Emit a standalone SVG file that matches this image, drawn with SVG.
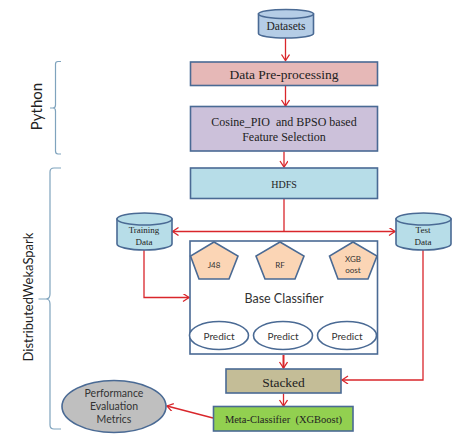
<svg xmlns="http://www.w3.org/2000/svg" width="461" height="446" viewBox="0 0 461 446">
<style>
.b{stroke:#4a6a94;stroke-width:1.6}
.t{font-family:"Liberation Serif",serif;fill:#222;text-anchor:middle}
.s{font-family:Lato,"Liberation Sans",sans-serif;fill:#333;text-anchor:middle}
.r{fill:none;stroke:#d9262b;stroke-width:1.3}
.u{fill:none;stroke:#6a9cc0;stroke-width:1.3}
.br{fill:none;stroke:#7fa3bd;stroke-width:1.2}
</style>
<defs>
<marker id="ar" markerWidth="10" markerHeight="10" refX="7" refY="4" orient="auto" markerUnits="userSpaceOnUse"><path d="M1 0L7 4L1 8" fill="none" stroke="#d9262b" stroke-width="1.3"/></marker>
<marker id="au" markerWidth="10" markerHeight="10" refX="7" refY="4" orient="auto" markerUnits="userSpaceOnUse"><path d="M1 0L7 4L1 8" fill="none" stroke="#6a9cc0" stroke-width="1.3"/></marker>
</defs>
<rect width="461" height="446" fill="#fff"/>
<g id="connectors">
<path class="r" d="M285.500 38V60.500" marker-end="url(#ar)"/>
<path class="r" d="M285.500 86V106" marker-end="url(#ar)"/>
<path class="r" d="M284 151.500V167" marker-end="url(#ar)"/>
<path class="r" d="M284 199V231"/>
<path class="r" d="M284 231.500H172.500" marker-end="url(#ar)"/>
<path class="r" d="M284 231.500H395" marker-end="url(#ar)"/>
<path class="r" d="M144 250V297.500H189" marker-end="url(#ar)"/>
<path class="r" d="M423 250V380H342" marker-end="url(#ar)"/>
<path class="r" d="M283.500 355V368" marker-end="url(#ar)" style="stroke-width:2"/>
<path class="r" d="M283.500 393.500V406" marker-end="url(#ar)"/>
<path class="r" d="M213 418L167 406" marker-end="url(#ar)"/>
<path class="u" d="M213.500 279V320.500" marker-end="url(#au)"/>
<path class="u" d="M281 279V320.500" marker-end="url(#au)"/>
<path class="u" d="M354.500 279V320.500" marker-end="url(#au)"/>
</g>
<g id="brace-python">
<path class="br" d="M61 61.500H58Q55.500 61.500 55.500 64V105Q55.500 108 53 108H50M53 108Q55.500 108 55.500 111V151Q55.500 154 58 154H61"/>
<text class="s" transform="rotate(-90 41.500 106.500)" x="41.500" y="106.500" font-size="15" style="fill:#222">Python</text>
</g>
<g id="brace-spark">
<path class="br" d="M61 168H54Q50 168 50 172V294Q50 299 46 299H38.500M46 299Q50 299 50 304V425Q50 429 54 429H61"/>
<text class="s" transform="rotate(-90 32.500 297)" x="32.500" y="297" font-size="13" style="fill:#222">DistributedWekaSpark</text>
</g>
<g id="datasets">
<path class="b" fill="#b5cde6" d="M258.500 14V33.500C258.500 36 271 38 286 38S313.500 36 313.500 33.500V14Z"/>
<ellipse class="b" cx="286" cy="14" rx="27.500" ry="4.500" fill="#b5cde6"/>
<text class="t" x="286" y="30" font-size="11.500">Datasets</text>
</g>
<g id="preprocessing">
<rect class="b" x="190.500" y="62" width="187" height="23.500" fill="#e6b8b7"/>
<text class="t" x="284" y="78.500" font-size="13.500">Data Pre-processing</text>
</g>
<g id="feature-selection">
<rect class="b" x="190.500" y="106.500" width="187" height="44.500" fill="#ccc1da"/>
<text class="t" x="284" y="126" font-size="12" xml:space="preserve">Cosine_PIO  and BPSO based</text>
<text class="t" x="284" y="141" font-size="12">Feature Selection</text>
</g>
<g id="hdfs">
<rect class="b" x="190.500" y="168" width="187" height="30.500" fill="#b7dde8"/>
<text class="t" x="284" y="187.500" font-size="10">HDFS</text>
</g>
<g id="training-data">
<path class="b" fill="#b7dde8" d="M117 219V244C117 247 129 250 144.500 250S172 247 172 244V219Z"/>
<ellipse class="b" cx="144.500" cy="219" rx="27.500" ry="6" fill="#b7dde8"/>
<text class="t" x="144" y="232.500" font-size="9">Training</text>
<text class="t" x="144" y="244.500" font-size="9">Data</text>
</g>
<g id="test-data">
<path class="b" fill="#b7dde8" d="M396 219V244C396 247 408 250 423.500 250S451 247 451 244V219Z"/>
<ellipse class="b" cx="423.500" cy="219" rx="27.500" ry="6" fill="#b7dde8"/>
<text class="t" x="423" y="232.500" font-size="9">Test</text>
<text class="t" x="423" y="244.500" font-size="9">Data</text>
</g>
<g id="base-classifier">
<rect class="b" x="190" y="241" width="187.500" height="113" fill="#fff"/>
<text class="s" x="284" y="303" font-size="12.500">Base Classifier</text>
</g>
<g id="j48">
<path class="b" fill="#fbd5b5" d="M214 242L238 256L229 279H199L190.500 256Z"/>
<text class="s" x="214" y="268" font-size="8">J48</text>
</g>
<g id="rf">
<path class="b" fill="#fbd5b5" d="M280 242L304 256L295 279H265L256 256Z"/>
<text class="s" x="280" y="268" font-size="8">RF</text>
</g>
<g id="xgboost">
<path class="b" fill="#fbd5b5" d="M353 242L377 256L368 279H338L329.500 256Z"/>
<text class="s" x="353" y="262" font-size="8">XGB</text>
<text class="s" x="353" y="273" font-size="8">oost</text>
</g>
<g id="predict-1">
<ellipse class="b" cx="219" cy="335.500" rx="29.500" ry="14" fill="#fff"/>
<text class="s" x="219" y="339.500" font-size="10">Predict</text>
</g>
<g id="predict-2">
<ellipse class="b" cx="283" cy="335.500" rx="29.500" ry="14" fill="#fff"/>
<text class="s" x="283" y="339.500" font-size="10">Predict</text>
</g>
<g id="predict-3">
<ellipse class="b" cx="347" cy="335.500" rx="29.500" ry="14" fill="#fff"/>
<text class="s" x="347" y="339.500" font-size="10">Predict</text>
</g>
<g id="stacked">
<rect class="b" x="226" y="369" width="115" height="24" fill="#c4bd97"/>
<text class="t" x="283.500" y="387" font-size="13.500">Stacked</text>
</g>
<g id="meta-classifier">
<rect class="b" x="213.500" y="406.500" width="139.500" height="24.500" fill="#92d050"/>
<text class="t" x="283.500" y="423" font-size="10.500" xml:space="preserve">Meta-Classifier  (XGBoost)</text>
</g>
<g id="performance">
<ellipse class="b" cx="114" cy="406.500" rx="52" ry="26" fill="#bfbfbf"/>
<text class="s" x="114" y="397" font-size="10.500">Performance</text>
<text class="s" x="114" y="410" font-size="10.500">Evaluation</text>
<text class="s" x="114" y="423" font-size="10.500">Metrics</text>
</g>
</svg>
